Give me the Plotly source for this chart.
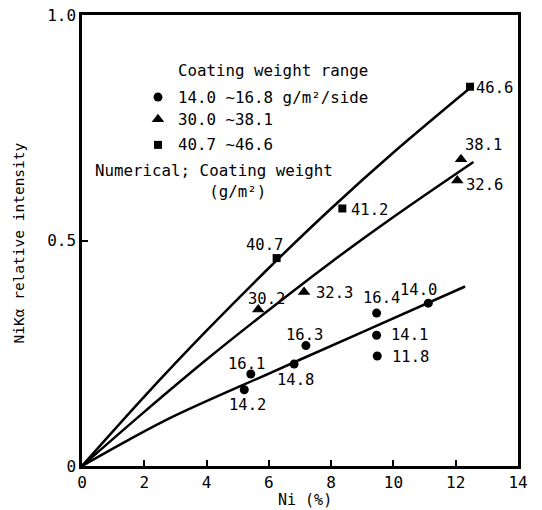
import plotly.graph_objects as go

# Measured points: Ni content (%) vs NiKα relative intensity, grouped by coating weight
ni_low = [5.21, 5.42, 6.81, 7.19, 9.46, 9.46, 9.48, 11.12]
int_low = [0.169, 0.204, 0.226, 0.267, 0.339, 0.290, 0.244, 0.361]
cw_low = ["14.2", "16.1", "14.8", "16.3", "16.4", "14.1", "11.8", "14.0"]

ni_mid = [5.66, 7.13, 12.05, 12.17]
int_mid = [0.347, 0.386, 0.633, 0.680]
cw_mid = ["30.2", "32.3", "32.6", "38.1"]

ni_high = [6.25, 8.36, 12.46]
int_high = [0.461, 0.571, 0.841]
cw_high = ["40.7", "41.2", "46.6"]

# Calibration curves drawn through the origin
curve_low_ni = [0, 1.5, 3, 6, 9, 12.3]
curve_low_int = [0, 0.058, 0.112, 0.205, 0.297, 0.398]
curve_mid_ni = [0, 2, 4, 6, 8, 10, 12.57]
curve_mid_int = [0, 0.120, 0.236, 0.346, 0.452, 0.552, 0.674]
curve_high_ni = [0, 2, 4, 6, 8, 10, 12.46]
curve_high_int = [0, 0.154, 0.300, 0.439, 0.571, 0.695, 0.838]

legend_title = "Coating weight range"
legend_labels = ["14.0 ~16.8 g/m²/side", "30.0 ~38.1", "40.7 ~46.6"]
note_text = "Numerical; Coating weight<br>" + "\u00a0" * 12 + "(g/m²)"

x_ticks = [0, 2, 4, 6, 8, 10, 12, 14]
y_ticks = [0, 0.5, 1.0]
y_ticktext = ["0", "0.5", "1.0"]

FONT = "DejaVu Sans Mono"
INK = "black"

# label offsets (pixels) of each weight label relative to its marker
off_low = [(3, -15), (-4, 10), (1, -16), (-1, 11), (5, 15), (33, 0), (33, -1), (-10, 13)]
off_mid = [(8, 11), (30, -1), (27, -4), (22, 14)]
off_high = [(-12, 13), (27, -2), (24, -1)]

fig = go.Figure()

for cx, cy in [(curve_low_ni, curve_low_int), (curve_mid_ni, curve_mid_int),
               (curve_high_ni, curve_high_int)]:
    fig.add_trace(go.Scatter(x=cx, y=cy, mode="lines",
                             line=dict(color=INK, width=2.5, shape="spline", smoothing=1),
                             hoverinfo="skip", showlegend=False))

fig.add_trace(go.Scatter(x=ni_low, y=int_low, mode="markers",
                         marker=dict(symbol="circle", size=9, color=INK),
                         showlegend=False))
fig.add_trace(go.Scatter(x=ni_mid, y=int_mid, mode="markers",
                         marker=dict(symbol="triangle-up", size=11, color=INK),
                         showlegend=False))
fig.add_trace(go.Scatter(x=ni_high, y=int_high, mode="markers",
                         marker=dict(symbol="square", size=8, color=INK),
                         showlegend=False))

annotations = []
for xs, ys, labels, offs in [(ni_low, int_low, cw_low, off_low),
                             (ni_mid, int_mid, cw_mid, off_mid),
                             (ni_high, int_high, cw_high, off_high)]:
    for x, y, t, (dx, dy) in zip(xs, ys, labels, offs):
        annotations.append(dict(x=x, y=y, xref="x", yref="y", text=t, showarrow=False,
                                xshift=dx, yshift=dy, xanchor="center", yanchor="middle",
                                font=dict(family=FONT, size=15.5, color=INK)))

# legend block: glyphs and text placed inside the plot area
leg_x = 2.44
leg_y = [0.818, 0.769, 0.712]
leg_sym = ["circle", "triangle-up", "square"]
leg_size = [9, 11, 8]
for yy, sym, sz in zip(leg_y, leg_sym, leg_size):
    fig.add_trace(go.Scatter(x=[leg_x], y=[yy], mode="markers",
                             marker=dict(symbol=sym, size=sz, color=INK),
                             hoverinfo="skip", showlegend=False))
for yy, t in zip(leg_y, legend_labels):
    annotations.append(dict(x=leg_x, y=yy, xref="x", yref="y", text=t, showarrow=False,
                            xshift=18, xanchor="left", yanchor="middle",
                            font=dict(family=FONT, size=15.8, color=INK)))
annotations.append(dict(x=leg_x, y=0.878, xref="x", yref="y", text=legend_title,
                        showarrow=False, xshift=18, xanchor="left", yanchor="middle",
                        font=dict(family=FONT, size=15.8, color=INK)))
annotations.append(dict(x=0.35, y=0.632, xref="x", yref="y", text=note_text,
                        showarrow=False, xanchor="left", yanchor="middle", align="left",
                        font=dict(family=FONT, size=15.8, color=INK)))

# axis titles
annotations.append(dict(x=0, y=0.5, xref="paper", yref="paper", text="NiKα relative intensity",
                        textangle=-90, showarrow=False, xshift=-64, yshift=-3,
                        xanchor="center", yanchor="middle",
                        font=dict(family=FONT, size=14.5, color=INK)))
annotations.append(dict(x=0.5, y=0, xref="paper", yref="paper", text="Ni (%)",
                        showarrow=False, xshift=5, yshift=-34,
                        xanchor="center", yanchor="middle",
                        font=dict(family=FONT, size=15, color=INK)))

fig.update_layout(
    width=542, height=510,
    margin=dict(l=82, r=24, t=15, b=44),
    paper_bgcolor="white", plot_bgcolor="white",
    annotations=annotations,
    xaxis=dict(range=[0, 14], tickvals=x_ticks, ticks="inside", ticklen=6, tickwidth=1.5,
               tickcolor=INK, showline=True, linecolor=INK, linewidth=2.5, mirror=True,
               showgrid=False, zeroline=False, automargin=False,
               tickfont=dict(family=FONT, size=16, color=INK)),
    yaxis=dict(range=[0, 1.0], tickvals=y_ticks, ticktext=y_ticktext, ticks="inside",
               ticklen=6, tickwidth=1.5, tickcolor=INK, showline=True, linecolor=INK,
               linewidth=2.5, mirror=True, showgrid=False, zeroline=False, automargin=False,
               tickfont=dict(family=FONT, size=16, color=INK)),
)

fig.write_html("out.html")
